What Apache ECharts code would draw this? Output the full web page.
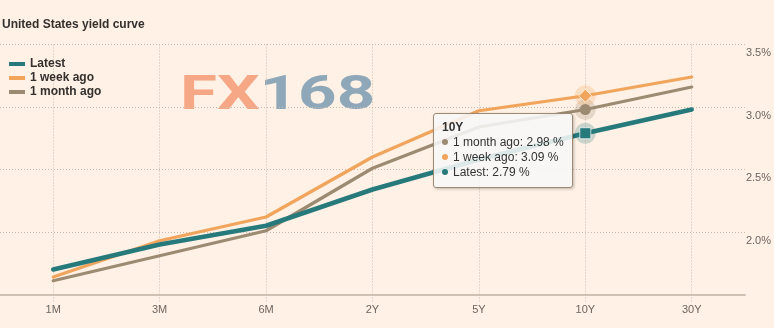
<!DOCTYPE html>
<html>
<head>
<meta charset="utf-8">
<script src="https://cdn.jsdelivr.net/npm/echarts@6/dist/echarts.min.js"></script>
<style>
html,body{margin:0;padding:0;background:#fff1e5;}
#chart{width:774px;height:328px;}
</style>
</head>
<body>
<div id="chart"></div>
<script>
const categories = ['1M', '3M', '6M', '2Y', '5Y', '10Y', '30Y'];
const latest   = [1.70, 1.90, 2.05, 2.34, 2.58, 2.79, 2.98];
const weekAgo  = [1.64, 1.93, 2.12, 2.60, 2.97, 3.09, 3.24];
const monthAgo = [1.61, 1.81, 2.01, 2.51, 2.84, 2.98, 3.16];
const yTickLabels = ['2.0%', '2.5%', '3.0%', '3.5%'];
const hoverIndex = 5;

const FONT = 'Liberation Sans, Arial, sans-serif';
const C_LATEST = '#267a7c';
const C_WEEK = '#f1a45c';
const C_MONTH = '#9c8a72';
const GRIDC = '#c8bbae';

const seriesDefs = [
  {name: '1 month ago', data: monthAgo, color: C_MONTH, width: 3.2, symbol: 'circle', size: 11},
  {name: '1 week ago', data: weekAgo, color: C_WEEK, width: 3.2, symbol: 'diamond', size: 13},
  {name: 'Latest', data: latest, color: C_LATEST, width: 4.5, symbol: 'rect', size: 11}
];

const only = (arr) => arr.map((v, i) => i === hoverIndex ? v : '-');

const series = [];
seriesDefs.forEach(s => {
  series.push({
    name: s.name, type: 'line', data: s.data, color: s.color,
    symbol: 'none', smooth: false, z: 2,
    lineStyle: {width: s.width, color: s.color, cap: 'round', join: 'round'},
    itemStyle: {color: s.color},
    emphasis: {disabled: true}, animation: false
  });
});
seriesDefs.forEach(s => {
  series.push({
    name: 'halo-' + s.name, type: 'scatter', data: only(s.data),
    symbol: 'circle', symbolSize: 21, z: 3,
    itemStyle: {color: s.color, opacity: 0.25},
    emphasis: {disabled: true}, animation: false, silent: true
  });
});
seriesDefs.forEach(s => {
  series.push({
    name: 'marker-' + s.name, type: 'scatter', data: only(s.data),
    symbol: s.symbol, symbolSize: s.size, z: 4,
    itemStyle: {color: s.color, opacity: 1, borderColor: 'rgba(255,255,255,0.7)', borderWidth: s.symbol === 'circle' ? 0 : 1},
    emphasis: {disabled: true}, animation: false, silent: true
  });
});

function tipHtml() {
  const row = (color, name, v) =>
    '<div style="line-height:15px;white-space:nowrap"><span style="display:inline-block;width:6px;height:6px;border-radius:3px;background:' +
    color + ';margin-right:5px;vertical-align:1px"></span>' + name + ': ' + v.toFixed(2) + ' %</div>';
  return '<div style="font-weight:bold;line-height:15px">' + categories[hoverIndex] + '</div>' +
    row(C_MONTH, '1 month ago', monthAgo[hoverIndex]) +
    row(C_WEEK, '1 week ago', weekAgo[hoverIndex]) +
    row(C_LATEST, 'Latest', latest[hoverIndex]);
}

const chart = echarts.init(document.getElementById('chart'), null, {renderer: 'canvas'});
chart.setOption({
  backgroundColor: '#fff1e5',
  animation: false,
  textStyle: {fontFamily: FONT},
  title: {
    text: 'United States yield curve', left: 2, top: 19, padding: 0,
    textStyle: {fontFamily: FONT, fontSize: 12, fontWeight: 'bold', color: '#33302e'}
  },
  legend: {
    data: ['Latest', '1 week ago', '1 month ago'],
    orient: 'vertical', left: 9, top: 57, padding: 0, itemGap: 0,
    icon: 'rect', itemWidth: 16, itemHeight: 4,
    textStyle: {fontFamily: FONT, fontSize: 12, fontWeight: 'bold', color: '#33302e', lineHeight: 14},
    selectedMode: false
  },
  graphic: [{
    type: 'text', left: 180, top: 73, z: 0, silent: true,
    scaleX: 1.4,
    style: {
      text: '{a|FX}{b|168}', opacity: 0.85,
      rich: {
        a: {fontFamily: 'Roboto', fontWeight: 'bold', fontSize: 48, fill: '#f49a74'},
        b: {fontFamily: 'Roboto', fontWeight: 'bold', fontSize: 48, fill: '#7b9bb1'}
      }
    }
  }],
  grid: {left: 0, right: 29, top: 44.5, bottom: 33.5, containLabel: false},
  xAxis: {
    type: 'category', data: categories, boundaryGap: true,
    axisLine: {show: true, lineStyle: {color: '#cfc2b3', width: 2}},
    axisTick: {show: true, alignWithLabel: true, length: 7, lineStyle: {color: GRIDC, type: [1, 2]}},
    splitLine: {show: true, alignWithLabel: true, lineStyle: {color: GRIDC, type: [1, 2], width: 1}},
    axisLabel: {fontFamily: FONT, fontSize: 11, color: '#6b6562', margin: 10}
  },
  yAxis: {
    type: 'value', position: 'right', min: 1.5, max: 3.5, interval: 0.5,
    axisLine: {show: false}, axisTick: {show: false},
    splitLine: {show: true, lineStyle: {color: GRIDC, type: [1, 2], width: 1}},
    axisLabel: {
      fontFamily: FONT, fontSize: 11, color: '#6b6562', margin: 1,
      align: 'left', verticalAlign: 'top', padding: [3, 0, 0, 0],
      formatter: (v) => {
        const idx = Math.round((v - 2.0) / 0.5);
        return (idx >= 0 && idx < yTickLabels.length) ? yTickLabels[idx] : '';
      }
    }
  },
  tooltip: {
    show: true, trigger: 'axis', alwaysShowContent: true, triggerOn: 'none',
    axisPointer: {type: 'none'},
    transitionDuration: 0, showDelay: 0, hideDelay: 0,
    backgroundColor: 'rgba(247,247,247,0.88)', borderColor: C_MONTH, borderWidth: 1, borderRadius: 3,
    padding: [6, 8, 7, 8],
    textStyle: {fontFamily: FONT, fontSize: 12, color: '#333333'},
    extraCssText: 'box-shadow:1px 1px 3px rgba(0,0,0,0.25);',
    position: () => [433, 113],
    formatter: () => tipHtml()
  },
  series: series
});
chart.dispatchAction({type: 'showTip', seriesIndex: 0, dataIndex: hoverIndex});
</script>
</body>
</html>
